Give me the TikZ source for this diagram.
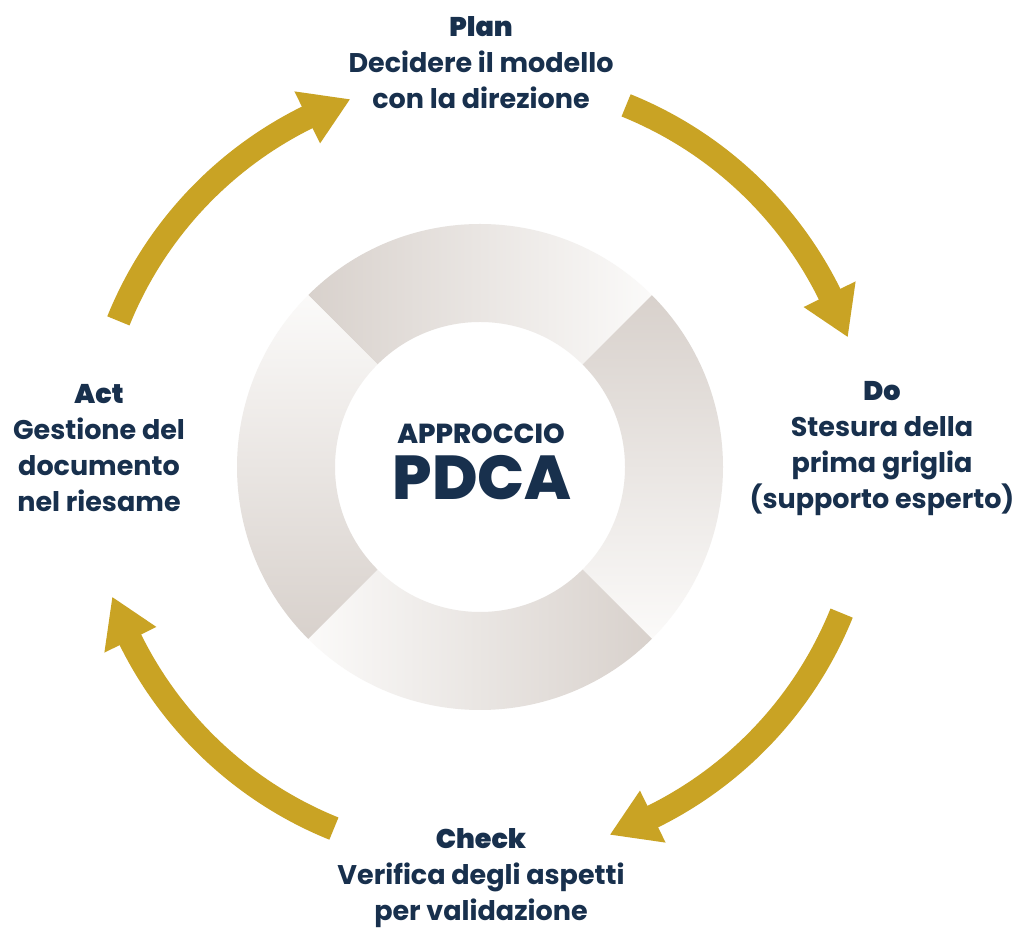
\documentclass[tikz,border=0pt]{standalone}
\usepackage{fontspec}
\setmainfont{Poppins}
\newfontfamily\heavyfont{Poppins ExtraBold}
\usetikzlibrary{calc}
\definecolor{navy}{RGB}{24,48,77}
\definecolor{gold}{RGB}{201,163,36}
\definecolor{ringdark}{RGB}{216,209,204}
\definecolor{ringlight}{RGB}{251,250,249}
\newcommand\pdcaarrow[1]{%
  \draw[arrowshaft] (158-#1:390) arc[start angle=158-#1,end angle=115.5-#1,radius=390];
  \fill[gold] (116.3-#1:419) -- (109.5-#1:390) -- (116.3-#1:361) -- cycle;}
\newcommand\ringseg[1]{(#1-45:243) arc[start angle=#1-45,end angle=#1+45,radius=243] -- (#1+45:145) arc[start angle=#1+45,end angle=#1-45,radius=145] -- cycle}
\newcommand\ttl[1]{{\heavyfont\fontsize{27}{36}\selectfont #1}}
\begin{document}
\begin{tikzpicture}[x=1pt,y=1pt,
  arrowshaft/.style={draw=gold,line width=24pt},
  lbl/.style={align=center,text=navy,inner sep=0pt,font=\bfseries\fontsize{27}{36}\selectfont}]
\fill[white] (0,0) rectangle (1016,928);
\useasboundingbox (0,0) rectangle (1016,928);
\begin{scope}[shift={(480,461)}]
  \shade[left color=ringdark,right color=ringlight] \ringseg{90};
  \shade[top color=ringdark,bottom color=ringlight] \ringseg{0};
  \shade[left color=ringlight,right color=ringdark] \ringseg{270};
  \shade[top color=ringlight,bottom color=ringdark] \ringseg{180};
  \pdcaarrow{0}
  \pdcaarrow{90}
  \pdcaarrow{180}
  \pdcaarrow{270}
\end{scope}
\node[lbl] (plan) at (481,865) {\ttl{Plan}\\Decidere il modello\\con la direzione};
\node[lbl] (do) at (882,479) {\ttl{Do}\\Stesura della\\prima griglia\\(supporto esperto)};
\node[lbl] (check) at (481,50) {\ttl{Check}\\Verifica degli aspetti\\per validazione};
\node[lbl] (act) at (99,480) {\ttl{Act}\\Gestione del\\documento\\nel riesame};
\node[lbl,font=\heavyfont\fontsize{27.5}{30}\selectfont] (appr) at (481,494) {APPROCCIO};
\node[lbl,font=\heavyfont\fontsize{62}{70}\selectfont] (pdca) at (482,450) {PDCA};
\end{tikzpicture}
\end{document}
